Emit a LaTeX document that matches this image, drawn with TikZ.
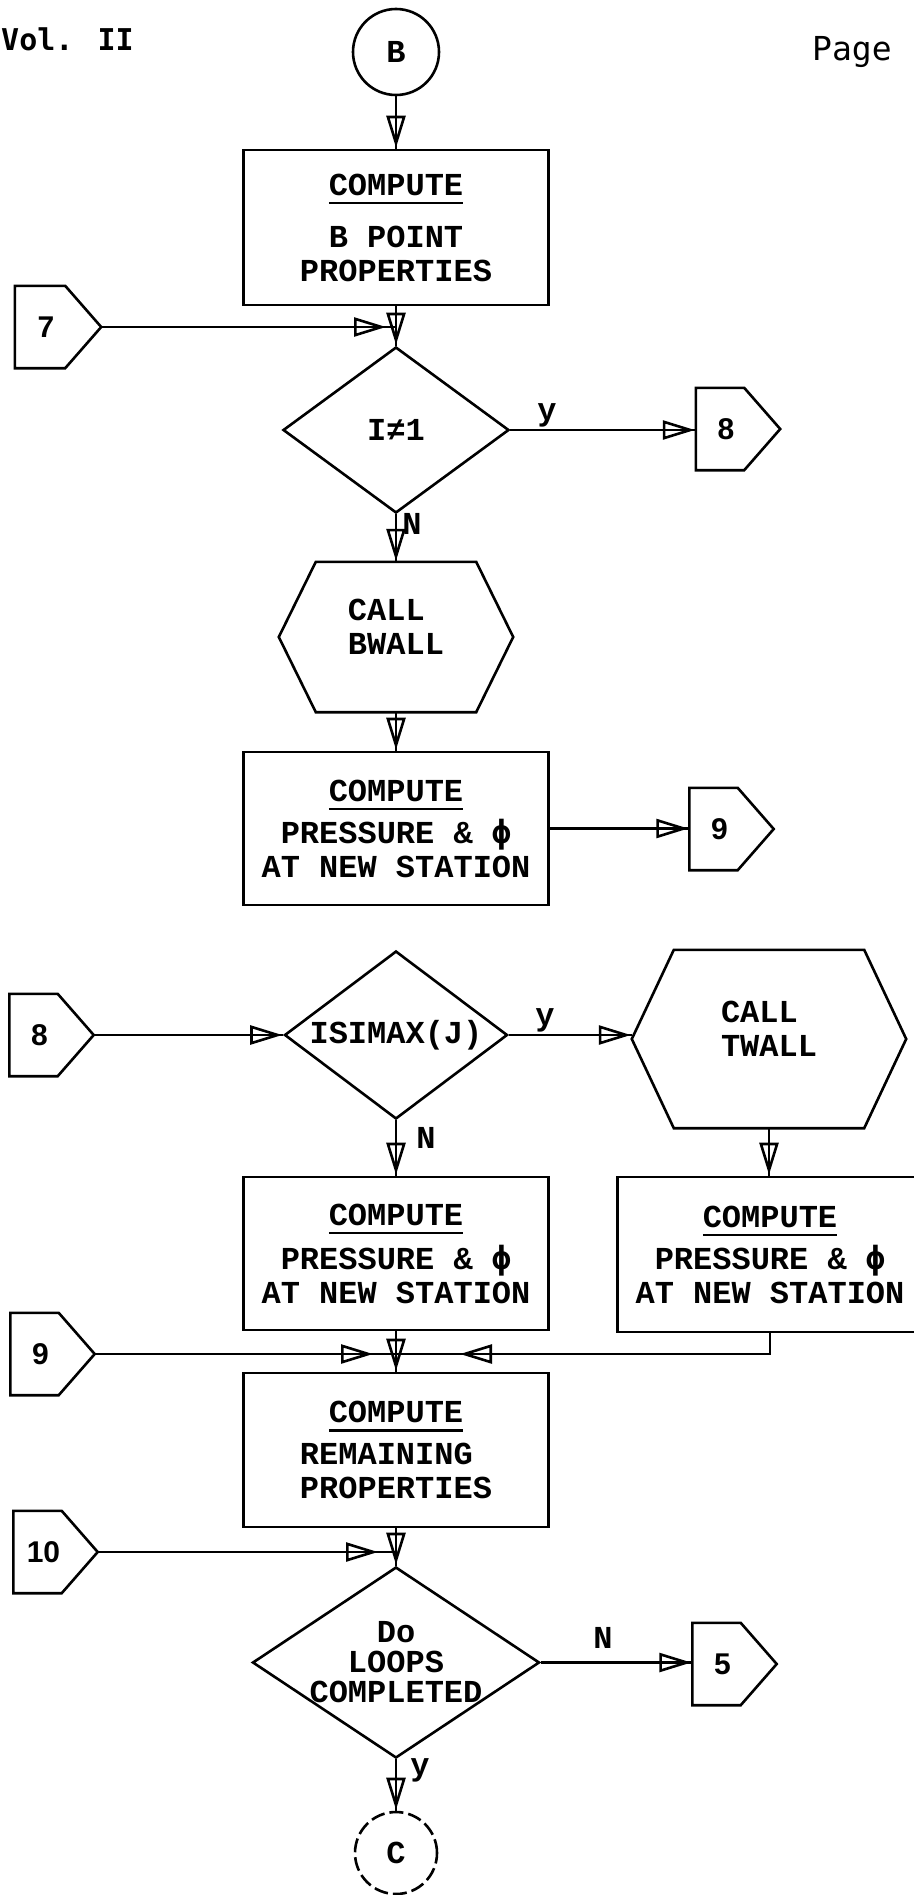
\documentclass[tikz,border=0pt]{standalone}
\usepackage{fontspec}
\setmonofont{Liberation Mono}
\newfontfamily\hdrfont{DejaVu Sans Mono}
\newfontfamily\digfont{Liberation Sans}
\newfontfamily\phfont{DejaVu Sans Mono}
\usetikzlibrary{shapes.geometric, arrows.meta, decorations.markings, calc}
\newcommand\myul[1]{\setbox0=\hbox{#1}\rlap{\rule[-9pt]{\wd0}{2.4pt}}\box0}
\newcommand\offdraw[1]{\draw[ln] (#1.north west) -- ([xshift=-36pt]#1.north east) -- (#1.east) -- ([xshift=-36pt]#1.south east) -- (#1.south west) -- cycle;}
\newcommand\hexdraw[2]{\draw[ln] (#1.west) -- ([xshift=#2]#1.north west) -- ([xshift=-#2]#1.north east) -- (#1.east) -- ([xshift=-#2]#1.south east) -- ([xshift=#2]#1.south west) -- cycle;}
\tikzset{
  ln/.style={line width=2.6pt, draw=black},
  txt/.style={font=\fontsize{32}{34}\selectfont\ttfamily\bfseries, text=black},
  boxn/.style={rectangle, draw, line width=2.6pt, minimum width=305pt, minimum height=154pt, inner sep=0pt, align=center, txt},
  dia/.style={diamond, draw, line width=2.6pt, inner sep=0pt},
  cir/.style={circle, draw, line width=2.6pt, inner sep=0pt, txt},
  frame/.style={rectangle, inner sep=0pt},
  offp/.style={frame, minimum width=84pt, minimum height=82pt, label={[dig, xshift=-12pt]center:#1}},
  dig/.style={font=\fontsize{30}{32}\selectfont\digfont\bfseries, text=black},
  arr/.style={postaction={decorate}, decoration={markings, mark=at position -#1 with {\arrow{Triangle[open, length=32pt, width=19pt, line width=2.6pt]}}}},
  arr/.default=1pt
}
\begin{document}
\begin{tikzpicture}[x=1pt,y=-1pt]
\useasboundingbox (0,0) rectangle (913,1895);
\fill[white] (0,0) rectangle (913,1895);
% header
\node[anchor=base west, inner sep=0pt, font=\fontsize{30}{30}\selectfont\hdrfont\bfseries] (vol) at (1,50) {Vol. II};
\node[anchor=base west, inner sep=0pt, font=\fontsize{33}{33}\selectfont\hdrfont] (pg) at (812,60) {Page};
% nodes
\node[cir, minimum size=86pt] (B) at (396,52) {B};
\node[boxn, minimum height=155pt] (b1) at (396,227.5) {\myul{COMPUTE}\\[18pt]B POINT\\PROPERTIES};
\node[offp=7, minimum width=86pt] (c7) at (58,327) {};
\coordinate (j1) at (396,327);
\node[dia, minimum width=226pt, minimum height=166pt, label={[txt]center:I≠1}] (d1) at (396,430) {};
\node[offp=8] (c8r) at (738,429) {};
\node[frame, minimum width=234pt, minimum height=150pt, label={[txt, align=left, yshift=10pt]center:CALL\\BWALL}] (bw) at (396,637) {};
\node[boxn, minimum height=153pt] (b2) at (396,828.5) {\myul{COMPUTE}\\[8pt]PRESSURE \& {\phfont ϕ}\\AT NEW STATION};
\node[offp=9] (c9r) at (731.5,829) {};
\node[offp=8] (c8l) at (51.5,1035) {};
\node[dia, minimum width=223pt, minimum height=168pt, label={[txt]center:ISIMAX(J)}] (d2) at (396,1035) {};
\node[frame, minimum width=274pt, minimum height=178pt, label={[txt, align=left, yshift=10pt]center:CALL\\TWALL}] (tw) at (769,1039) {};
\node[boxn, minimum height=153pt] (b3) at (396,1253.5) {\myul{COMPUTE}\\[10pt]PRESSURE \& {\phfont ϕ}\\AT NEW STATION};
\node[boxn, minimum height=155pt] (b4) at (770,1254.5) {\myul{COMPUTE}\\[8pt]PRESSURE \& {\phfont ϕ}\\AT NEW STATION};
\node[offp=9] (c9l) at (52.5,1354) {};
\coordinate (j2) at (396,1354);
\node[boxn] (b5) at (396,1450) {\myul{COMPUTE}\\[8pt]REMAINING\phantom{X}\\PROPERTIES};
\node[offp=10] (c10) at (55.5,1552) {};
\coordinate (j3) at (396,1552);
\node[dia, minimum width=287pt, minimum height=191pt, label={[txt, align=center, font=\fontsize{32}{30}\selectfont\ttfamily\bfseries]center:Do\\LOOPS\\COMPLETED}] (d3) at (396,1662.5) {};
\node[offp=5] (c5) at (734.5,1664) {};
\node[cir, minimum size=82pt, dash pattern=on 14pt off 5pt] (C) at (396,1853) {C};
% shapes drawn around frames
\offdraw{c7}
\offdraw{c8r}
\offdraw{c9r}
\offdraw{c8l}
\offdraw{c9l}
\offdraw{c10}
\offdraw{c5}
\hexdraw{bw}{37pt}
\hexdraw{tw}{42pt}
% connectors
\draw[ln, arr] (B) -- (b1);
\draw[ln, arr] (b1) -- (d1);
\draw[ln, arr=10pt] (c7.east) -- (j1);
\draw[ln, arr] (d1.east) -- (d1.east -| c8r.west);
\draw[ln, arr] (d1) -- (bw);
\draw[ln, arr] (bw) -- (b2);
\draw[ln, arr] (b2.east) -- (b2.east -| c9r.west);
\draw[ln, arr] (c8l.east) -- (c8l.east -| d2.west);
\draw[ln, arr] (d2.east) -- (d2.east -| tw.west);
\draw[ln, arr] (d2) -- (b3);
\draw[ln, arr] (tw.south) -- (tw.south |- b4.north);
\draw[ln, arr=23pt] (c9l.east) -- (j2);
\draw[ln, arr=64pt] (b4.south) -- (b4.south |- j2) -- (j2);
\draw[ln, arr] (b3) -- (b5);
\draw[ln, arr=18pt] (c10.east) -- (j3);
\draw[ln, arr] (b5) -- (d3);
\draw[ln, arr] (d3.east) -- (d3.east -| c5.west);
\draw[ln, arr] (d3) -- (C);
% connector labels
\node[txt] (ly1) at (547,415) {y};
\node[txt] (ln1) at (412,524) {N};
\node[txt] (ly2) at (545,1020) {y};
\node[txt] (ln2) at (426,1138) {N};
\node[txt] (ln3) at (603,1638) {N};
\node[txt] (ly3) at (420,1770) {y};
\end{tikzpicture}
\end{document}
